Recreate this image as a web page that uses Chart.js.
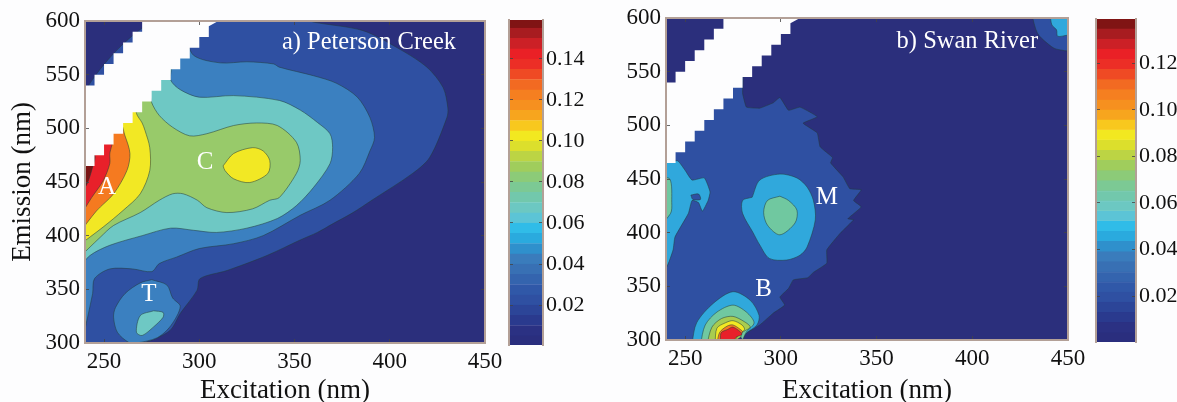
<!DOCTYPE html>
<html>
<head>
<meta charset="utf-8">
<script src="https://cdn.jsdelivr.net/npm/chart.js@4/dist/chart.umd.js"></script>
<style>
  html, body { margin: 0; padding: 0; background: #fdfdfe; }
  body { width: 1177px; height: 402px; position: relative; overflow: hidden; }
  canvas { position: absolute; top: 0; filter: blur(0.5px); }
</style>
</head>
<body>
<canvas id="peterson" width="505" height="402" style="left:0"></canvas>
<canvas id="peterson-bar" width="100" height="402" style="left:500px"></canvas>
<canvas id="swan" width="480" height="402" style="left:610px"></canvas>
<canvas id="swan-bar" width="90" height="402" style="left:1087px"></canvas>
<script>
// axis ticks
const excitationTicks = [250, 300, 350, 400, 450];
const emissionTicks = [300, 350, 400, 450, 500, 550, 600];
const colorbarTicksA = [0.02, 0.04, 0.06, 0.08, 0.10, 0.12, 0.14];
const colorbarTicksB = [0.02, 0.04, 0.06, 0.08, 0.10, 0.12];

// colorbar band edges, one list per panel
const bandEdgesA = [0.0005, 0.005, 0.01, 0.015, 0.02, 0.025, 0.03, 0.035, 0.04, 0.045, 0.05, 0.055, 0.06, 0.065, 0.07, 0.075, 0.08, 0.085, 0.09, 0.095, 0.10, 0.105, 0.11, 0.115, 0.12, 0.125, 0.13, 0.135, 0.14, 0.145, 0.15, 0.155, 0.159];
const bandEdgesB = [0.0003, 0.0043, 0.0087, 0.013, 0.0174, 0.0217, 0.0261, 0.0304, 0.0348, 0.0391, 0.0435, 0.0478, 0.0522, 0.0565, 0.0609, 0.0652, 0.0696, 0.0739, 0.0783, 0.0826, 0.087, 0.0913, 0.0957, 0.10, 0.1043, 0.1087, 0.113, 0.1174, 0.1217, 0.1261, 0.1304, 0.1348, 0.139];
const bandColors = ['#2a2e7e', '#2b3183', '#2a3a8e', '#2c4598', '#2f50a2', '#3058a8', '#3464ae', '#3870b4', '#3a7cbc', '#2f90cc', '#2aaade', '#30bce8', '#5cc4d6', '#6cc8c2', '#72c8ac', '#7cc994', '#8ccb78', '#a0cd5c', '#bcd444', '#dcdf2c', '#f2e820', '#f8c81e', '#f7a51e', '#f6901f', '#f57f20', '#f26a22', '#ef4a24', '#ec2e26', '#ea2026', '#cc2026', '#a81c20', '#801414'];

// whole plot area and the unmeasured band, [excitation, emission]
const plotArea = [[240, 300], [450, 300], [450, 600], [240, 600]];
const scatterBand = [[270, 600], [310, 600], [305, 595], [305, 585], [300, 585], [300, 575], [295, 575], [295, 565], [290, 565], [290, 555], [285, 555], [285, 545], [280, 545], [280, 535], [275, 535], [275, 525], [270, 525], [270, 515], [265, 515], [265, 505], [260, 505], [260, 495], [255, 495], [255, 485], [250, 485], [250, 475], [245, 475], [245, 465], [240, 465], [240, 540], [245, 540], [245, 550], [250, 550], [250, 560], [255, 560], [255, 570], [260, 570], [260, 580], [265, 580], [265, 590], [270, 590]];

// a) Peterson Creek contours
const creekLow = [[234, 294], [265, 297], [272.5, 301], [284.6, 311.6], [290, 327.5], [298.8, 349], [300.4, 360], [314.5, 367.5], [335.5, 381.5], [353, 396], [362, 403], [370, 411], [380.7, 421.5], [390.6, 433], [412, 458], [421, 473], [430, 510], [430.5, 519], [428, 538], [419.5, 557], [404, 575], [386, 591], [360, 599], [350, 604], [280, 604], [234, 510]];
const creekMid = [[238, 297], [244, 346], [245, 360], [253, 369], [265, 369], [275, 366.5], [279, 374], [288, 380], [300, 388], [318, 392.5], [333.5, 400], [353, 419], [368.6, 433], [384, 458], [389.6, 479], [392, 491.5], [389.6, 510], [383, 529], [372, 542], [360, 549], [342, 557], [339, 560], [325, 562], [311, 561], [297, 568], [290, 590], [236, 500]];
const creekT = [[275, 359], [269, 356], [261, 346], [256, 333], [255, 324], [257, 310], [263, 300.5], [267, 300], [278, 305], [285, 316], [290, 334], [286, 342], [283, 354]];
const creekTCore = [[276, 330], [269, 325.5], [267, 310], [270, 307], [276, 315], [281, 324], [281, 328.5]];
const creekTeal = [[236, 368], [242.6, 381.5], [253, 391], [270, 400], [285, 407], [297, 405], [309, 403], [325, 407], [341, 416], [351, 428], [360, 445], [368.6, 467], [370, 482], [368.6, 495], [362, 505.5], [353, 517], [342, 526], [318, 530.5], [300, 529], [290, 536], [285, 545], [285, 560], [236, 490]];
const creekGreen = [[236, 378], [248, 398.5], [255, 409.5], [269, 421.5], [279, 433], [286, 439], [291.5, 439], [299, 433], [304, 426], [314.5, 421.5], [328, 425], [337, 433], [342, 435.5], [351, 458], [353, 470], [351, 487], [341, 502.6], [330, 505], [318, 502.6], [304, 495], [295, 493], [286, 501], [279, 512], [275, 524], [272, 545], [236, 480]];
const creekYellow = [[236, 390], [249.5, 408], [260, 423.5], [269, 439], [274, 460.6], [274, 482], [271.5, 498], [270, 505], [267, 514], [266, 530], [236, 480]];
const creekCore = [[312.5, 465], [318, 476.5], [328, 482], [333.5, 479], [337, 470], [336, 458], [326.5, 449.5], [318, 453], [313.5, 460.6]];
const creekOrange = [[236, 400], [246, 423], [255, 439], [262, 460.6], [263.6, 476.5], [261, 493], [258, 505], [236, 480]];
const creekRed = [[236, 414], [243.5, 435.5], [249.5, 451], [253, 467], [253, 476], [254, 490], [236, 480]];
const creekDark = [[236, 435], [241, 448], [244, 464], [245, 475], [236, 478]];

// b) Swan River contours
const swanLow = [[234, 294], [278, 296], [282, 306.5], [289, 314], [296, 325], [302, 332.5], [299.5, 340], [304, 348], [306.5, 356], [314, 358], [317, 363], [324, 371.5], [324, 384], [331, 399.5], [338, 412], [335, 413], [342, 424], [338, 430], [342, 440], [336, 441], [332.5, 452], [326, 465], [327, 470], [320.5, 480], [319, 493], [311.6, 502], [319, 508], [310, 517], [304, 514], [299.5, 526], [296, 521], [289, 516], [282, 517], [280, 530], [280, 550], [236, 500]];
const swanCornerLow = [[431, 604], [434, 586], [439, 576.7], [444, 571], [454, 571], [454, 604]];
const swanCornerMid = [[440.6, 604], [441.6, 593.5], [444, 589], [444.6, 583], [449.8, 584], [454, 584], [454, 604]];
const swanLeftMid = [[236, 464], [246, 467], [250, 458], [253.6, 449], [260, 451], [263, 438], [262, 430], [259, 420], [257, 428], [253.6, 430], [251.7, 418], [244.7, 396], [243.7, 384], [240.3, 368], [236, 368]];
const swanLeftHole = [[253, 435], [257, 436], [258, 431], [254, 431]];
const swanLeftHigh = [[236, 451], [242, 450], [243, 428], [242.4, 418], [236, 407]];
const swanMMid = [[285, 433], [289, 449], [299.5, 454.6], [308.4, 451], [313.7, 442.5], [317, 430], [318, 412], [313.7, 386.6], [310, 379], [303, 374.5], [294, 376], [289, 388.5], [285.5, 400], [280, 418], [280, 430]];
const swanMHigh = [[299.5, 434], [293, 430], [291, 419], [293, 407], [299.5, 398], [307.4, 409], [308.4, 421], [304, 430]];
const swanB1 = [[253.5, 296], [256, 316], [264.6, 334], [275, 345], [284, 337], [288.6, 323], [287.5, 314], [282, 306.5], [277, 296]];
const swanB2 = [[258, 296], [260.5, 314], [266.6, 326], [275, 332.5], [282, 326], [286, 316], [282, 307.5], [278, 296]];
const swanB3 = [[261.4, 296], [264, 312], [269, 320], [275, 322], [281, 317], [284, 312], [279.7, 306.5], [278, 296]];
const swanB4 = [[265.6, 296], [266.6, 311], [271, 316], [275, 318], [279.7, 314], [281, 309.6], [277, 303], [277, 296]];
const swanB5 = [[266.6, 296], [268, 307], [272, 313], [275, 314], [278.7, 310], [280, 307.5], [276, 302], [276, 296]];
const swanB6 = [[268.7, 296], [268.7, 306.5], [272.4, 310], [275, 312], [279.7, 305.5], [276.6, 302.5], [274.5, 296]];
const swanBSpot = [[275, 298], [279, 303], [281, 298]];

// peak labels
const creekPeakNames = ['A', 'C', 'T'];
const creekPeakEx = [251.5, 303, 273.6];
const creekPeakEm = [445, 468, 345];
const swanPeakNames = ['B', 'M'];
const swanPeakEx = [291, 324];
const swanPeakEm = [347, 433];

const NAVY = '#2b2f7c', LOW = '#2f50a2', MID = '#3b80c0', TEAL = '#6ec8c4', GREEN = '#98ca6a';
const YELLOW = '#f2e824', ORANGE = '#f57a20', RED = '#e8202a', DARK = '#7a1414';
const CYAN = '#30a8dc', SEA = '#70c8a0', LIME = '#a8cc50';
const FRAME = '#b3a097', SERIF = '"Liberation Serif", serif', INK = '#111';

function contourSets(layers) {
  return layers.map((l, i) => ({
    data: l[0].concat([l[0][0]]),
    fillColor: l[1],
    showLine: true,
    borderColor: l[2] ? 'rgba(0,0,0,0)' : 'rgba(35,60,60,0.75)',
    borderWidth: 0.7,
    pointRadius: 0,
    tension: l[2] ? 0 : (l[3] === undefined ? 0.3 : l[3]),
    capBezierPoints: false,
    order: layers.length - i
  }));
}

// fills each closed contour along the line the scales placed
const polygonFill = {
  id: 'polygonFill',
  beforeDatasetDraw(chart, args) {
    const area = chart.chartArea;
    const line = args.meta.dataset;
    const ctx = chart.ctx;
    ctx.save();
    ctx.beginPath();
    ctx.rect(area.left, area.top, area.right - area.left, area.bottom - area.top);
    ctx.clip();
    ctx.fillStyle = chart.data.datasets[args.index].fillColor;
    line.updateControlPoints(area, 'x');
    ctx.beginPath();
    line.path(ctx);
    ctx.closePath();
    ctx.fill();
    ctx.restore();
  }
};

const panelText = {
  id: 'panelText',
  afterDatasetsDraw(chart, args, opts) {
    const ctx = chart.ctx;
    ctx.save();
    ctx.fillStyle = '#fff';
    ctx.textAlign = 'center';
    ctx.textBaseline = 'middle';
    ctx.font = '25px ' + SERIF;
    opts.names.forEach((name, i) => {
      ctx.fillText(name, chart.scales.x.getPixelForValue(opts.ex[i]), chart.scales.y.getPixelForValue(opts.em[i]));
    });
    ctx.font = '24.5px ' + SERIF;
    ctx.textAlign = 'right';
    ctx.fillText(opts.title, chart.scales.x.getPixelForValue(opts.titleEx), chart.scales.y.getPixelForValue(opts.titleEm));
    ctx.restore();
  }
};

function fixedTicks(list) {
  return scale => { scale.ticks = list.map(v => ({ value: v })); };
}

function frameAxis(position, min, max, list, size, extra) {
  const isX = position === 'top' || position === 'bottom';
  return Object.assign({
    type: 'linear',
    position,
    axis: isX ? 'x' : 'y',
    min,
    max,
    afterBuildTicks: fixedTicks(list),
    afterFit: s => {
      if (isX) s.height = size; else s.width = size;
      // tick labels may hang over the canvas margins, keep the plot box fixed
      s.paddingLeft = s.paddingRight = s.paddingTop = s.paddingBottom = 0;
    },
    border: { color: FRAME, width: 2, z: 3 },
    grid: { drawOnChartArea: false, tickLength: -4, color: '#444', lineWidth: 0.8, z: 2 },
    ticks: { display: false }
  }, extra || {});
}

function labelled(font, padding, format) {
  return {
    display: true,
    color: INK,
    padding,
    autoSkip: false,
    maxRotation: 0,
    font: { family: SERIF, size: font },
    callback: format || (v => v)
  };
}

function makePanel(id, layers, box, text, withTitle) {
  return new Chart(document.getElementById(id), {
    type: 'scatter',
    data: { datasets: contourSets(layers) },
    plugins: [polygonFill, panelText],
    options: {
      responsive: false,
      animation: false,
      events: [],
      plugins: { legend: { display: false }, tooltip: { enabled: false }, panelText: text },
      scales: {
        x: frameAxis('bottom', 240, 450, excitationTicks, box.bottom, {
          ticks: labelled(23, 9),
          title: { display: true, text: 'Excitation (nm)', color: INK, padding: { bottom: -2 }, font: { family: SERIF, size: 27, lineHeight: 1 } }
        }),
        y: frameAxis('left', 300, 600, emissionTicks, box.left, {
          ticks: labelled(23, 9),
          title: { display: withTitle, text: 'Emission (nm)', color: INK, padding: { top: 9 }, font: { family: SERIF, size: 27, lineHeight: 1 } }
        }),
        xTop: frameAxis('top', 240, 450, excitationTicks, box.top),
        yRight: frameAxis('right', 300, 600, emissionTicks, box.right)
      }
    }
  });
}

function makeColorbar(id, edges, tickList, box) {
  return new Chart(document.getElementById(id), {
    type: 'bar',
    data: {
      labels: [''],
      datasets: bandColors.map((c, i) => ({
        data: [[edges[i], edges[i + 1]]],
        backgroundColor: c,
        borderColor: c,
        borderWidth: 0.6,
        borderSkipped: false,
        barPercentage: 1,
        categoryPercentage: 1,
        grouped: false
      }))
    },
    options: {
      responsive: false,
      animation: false,
      events: [],
      layout: { padding: { top: box.top, bottom: box.bottom } },
      plugins: { legend: { display: false }, tooltip: { enabled: false } },
      scales: {
        x: { display: false },
        y: frameAxis('right', edges[0], edges[edges.length - 1], tickList, box.right, {
          ticks: labelled(22, 7, v => v.toFixed(2))
        }),
        yLeft: frameAxis('left', edges[0], edges[edges.length - 1], tickList, box.left)
      }
    }
  });
}

makePanel('peterson', [
  [plotArea, NAVY, true], [creekLow, LOW], [creekMid, MID], [creekT, MID], [creekTCore, TEAL], [creekTeal, TEAL],
  [creekGreen, GREEN], [creekYellow, YELLOW], [creekCore, YELLOW], [creekOrange, ORANGE], [creekRed, RED], [creekDark, DARK],
  [scatterBand, '#fdfdfe', true]
], { left: 85, right: 20, top: 21, bottom: 59 }, {
  names: creekPeakNames, ex: creekPeakEx, em: creekPeakEm, title: 'a) Peterson Creek', titleEx: 434.8, titleEm: 580
}, true);

makePanel('swan', [
  [plotArea, NAVY, true], [swanLow, LOW, false, 0.1], [swanCornerLow, LOW], [swanCornerMid, CYAN], [swanLeftMid, CYAN, false, 0.15], [swanLeftHole, LOW], [swanLeftHigh, SEA],
  [swanMMid, CYAN], [swanMHigh, SEA], [swanB1, CYAN], [swanB2, SEA], [swanB3, LIME], [swanB4, YELLOW], [swanB5, ORANGE], [swanB6, RED], [swanBSpot, NAVY, true],
  [scatterBand, '#fdfdfe', true]
], { left: 56, right: 22, top: 18, bottom: 62 }, {
  names: swanPeakNames, ex: swanPeakEx, em: swanPeakEm, title: 'b) Swan River', titleEx: 434.4, titleEm: 578
}, false);

makeColorbar('peterson-bar', bandEdgesA, colorbarTicksA, { left: 9, right: 57, top: 20, bottom: 57 });
makeColorbar('swan-bar', bandEdgesB, colorbarTicksB, { left: 9, right: 41, top: 19, bottom: 60 });
</script>
</body>
</html>
